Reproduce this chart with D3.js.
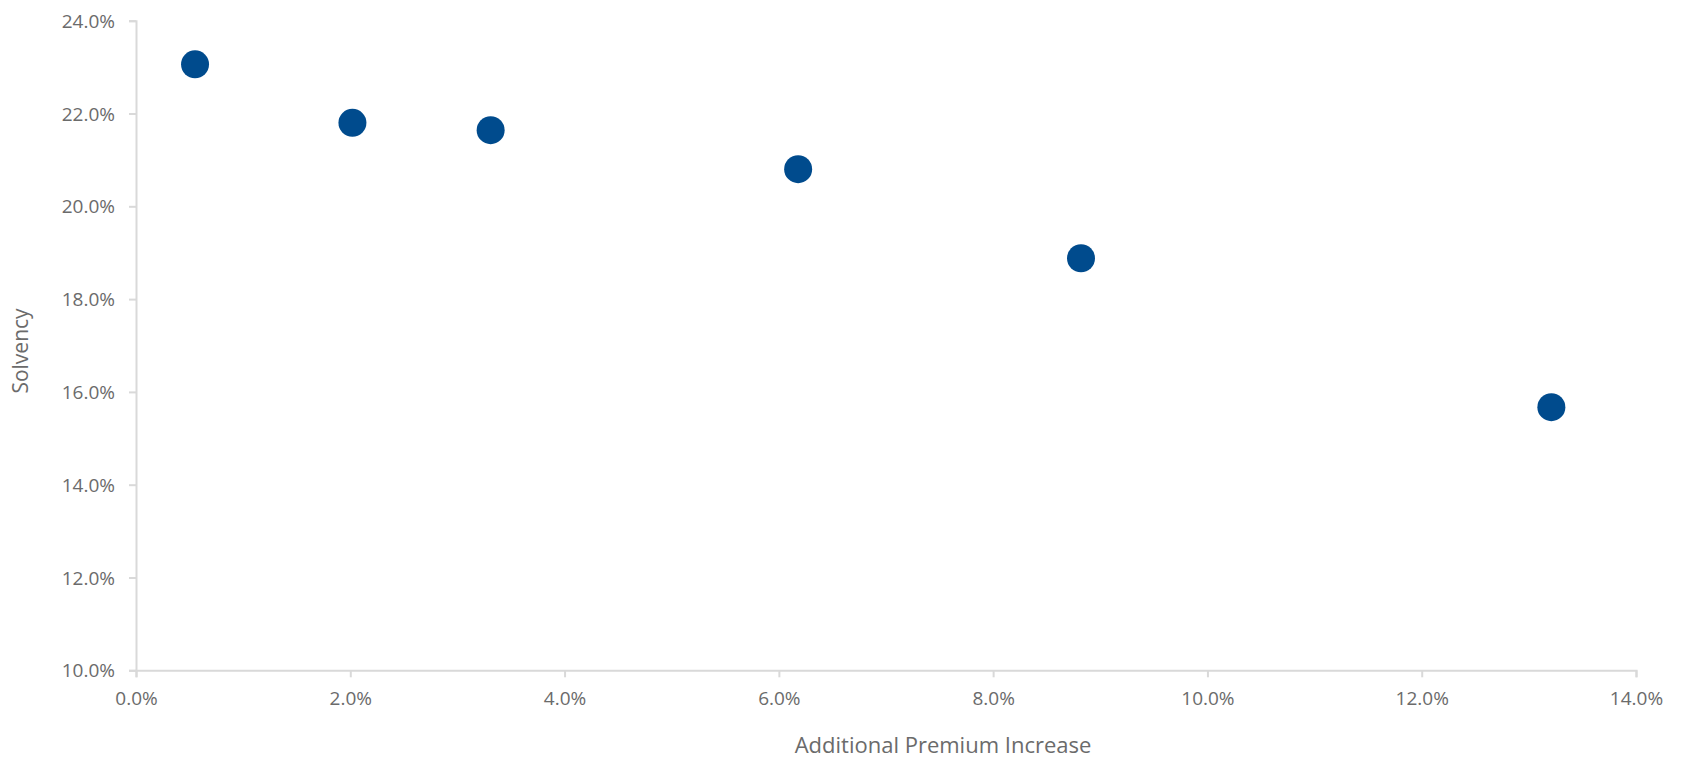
<!DOCTYPE html>
<html><head><meta charset="utf-8">
<script src="https://cdn.jsdelivr.net/npm/d3@7"></script>
<style>body{margin:0;background:#fff}text{font-family:"Open Sans",sans-serif;fill:#6b6b6b}</style>
</head><body>
<script>
const premiumIncrease = [0.551, 2.02, 3.31, 6.18, 8.82, 13.21];
const solvency = [23.06, 21.80, 21.64, 20.80, 18.88, 15.67];
const xTicks = [0, 2, 4, 6, 8, 10, 12, 14];
const yTicks = [10, 12, 14, 16, 18, 20, 22, 24];
const xTitle = "Additional Premium Increase";
const yTitle = "Solvency";

const W = 1681, H = 758;
const svg = d3.select("body").append("svg").attr("width", W).attr("height", H);
const x = d3.scaleLinear().domain([0, 14]).range([136, 1636]);
const y = d3.scaleLinear().domain([10, 24]).range([670.3, 20.7]);
const fmt = d => d.toFixed(1) + "%";

const gx = svg.append("g").attr("transform", `translate(0,${y(10)})`)
  .call(d3.axisBottom(x).tickValues(xTicks).tickFormat(fmt).tickSize(7).tickPadding(14));
const gy = svg.append("g").attr("transform", `translate(${x(0)},0)`)
  .call(d3.axisLeft(y).tickValues(yTicks).tickFormat(fmt).tickSize(7).tickPadding(14));
[gx, gy].forEach(g => {
  g.select(".domain").attr("stroke", "#d9d9d9").attr("stroke-width", 2);
  g.selectAll(".tick line").attr("stroke", "#d9d9d9").attr("stroke-width", 2);
  g.selectAll("text").style("font-size", "19px").style("font-family", "'Open Sans'").attr("fill", "#6b6b6b");
});
gy.selectAll("text").attr("dy", "0.35em");

svg.append("g").selectAll("circle").data(premiumIncrease).join("circle")
  .attr("cx", d => x(d)).attr("cy", (d, i) => y(solvency[i])).attr("r", 14)
  .attr("fill", "#004b8d");

svg.append("text").attr("x", 943).attr("y", 753).attr("text-anchor", "middle")
  .style("font-size", "22px").text(xTitle);
svg.append("text").attr("transform", "translate(28,351) rotate(-90)").attr("text-anchor", "middle")
  .style("font-size", "21px").text(yTitle);
</script>
</body></html>
